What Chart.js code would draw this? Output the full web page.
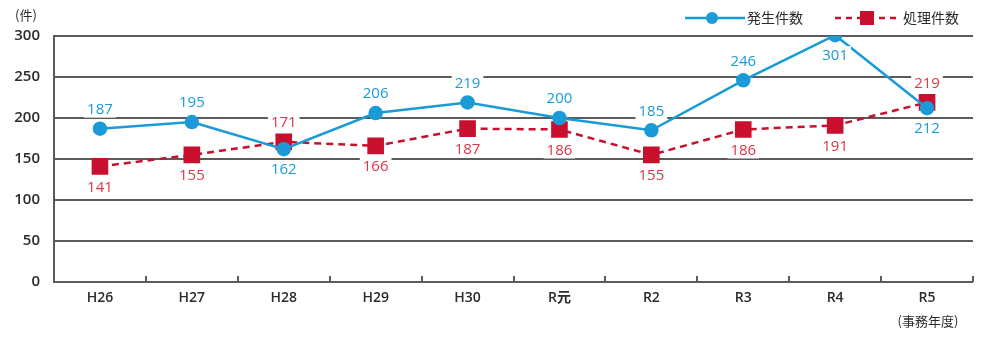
<!DOCTYPE html>
<html>
<head>
<meta charset="utf-8">
<script src="https://cdn.jsdelivr.net/npm/chart.js@4/dist/chart.umd.min.js"></script>
<style>
  html, body { margin: 0; padding: 0; background: #fff; }
  #wrap { position: relative; width: 997px; height: 339px; }
</style>
</head>
<body>
<div id="wrap"><canvas id="c" width="997" height="339"></canvas></div>
<script>
const categories = ['H26', 'H27', 'H28', 'H29', 'H30', 'R元', 'R2', 'R3', 'R4', 'R5'];
const occurred = [187, 195, 162, 206, 219, 200, 185, 246, 301, 212];
const handled = [141, 155, 171, 166, 187, 186, 155, 186, 191, 219];
// label placement per point: 'up' or 'down'
const occurredLabelPos = ['up', 'up', 'down', 'up', 'up', 'up', 'up', 'up', 'down', 'down'];
const handledLabelPos = ['down', 'down', 'up', 'down', 'down', 'down', 'down', 'down', 'down', 'up'];
const yTicks = [0, 50, 100, 150, 200, 250, 300];

const BLUE = '#1a9ad6';
const RED = '#c8102e';
const RED_TEXT = '#dc3545';
const GRID = '#5b5b5b';
const TEXT = '#2b2b2b';
const NUM_FONT = '"Open Sans", "Noto Sans CJK JP", sans-serif';
const JP_FONT = '"Noto Sans CJK JP", sans-serif';

const overlay = {
  id: 'overlay',
  afterDraw(chart) {
    const ctx = chart.ctx;
    const x = chart.scales.x;
    const area = chart.chartArea;
    ctx.save();
    // inward tick marks on the base line at category boundaries
    ctx.strokeStyle = GRID;
    ctx.lineWidth = 2;
    const n = categories.length;
    for (let i = 1; i <= n; i++) {
      const px = Math.round(x.left + i * (x.right - x.left) / n);
      ctx.beginPath();
      ctx.moveTo(px, area.bottom);
      ctx.lineTo(px, area.bottom - 6);
      ctx.stroke();
    }

    // value labels with white backing
    ctx.font = '15px ' + NUM_FONT;
    ctx.textAlign = 'center';
    ctx.textBaseline = 'middle';
    const drawLabels = (dsIndex, values, pos, color) => {
      const meta = chart.getDatasetMeta(dsIndex);
      meta.data.forEach((pt, i) => {
        const t = String(values[i]);
        const ly = pos[i] === 'up' ? pt.y - 20 : pt.y + 20;
        const w = ctx.measureText(t).width;
        ctx.fillStyle = '#ffffff';
        ctx.fillRect(pt.x - w / 2 - 3, ly - 9, w + 6, 18);
        ctx.fillStyle = color;
        ctx.fillText(t, pt.x, ly + 1);
      });
    };
    drawLabels(0, occurred, occurredLabelPos, BLUE);
    drawLabels(1, handled, handledLabelPos, RED_TEXT);

    // unit labels
    ctx.fillStyle = TEXT;
    ctx.font = '13px ' + JP_FONT;
    ctx.textAlign = 'left';
    ctx.fillText('(件)', 15, 15);
    ctx.textAlign = 'center';
    ctx.fillText('(事務年度)', 928, 321);

    // legend
    ctx.textAlign = 'left';
    ctx.font = '14px ' + JP_FONT;
    ctx.strokeStyle = BLUE;
    ctx.lineWidth = 2.5;
    ctx.beginPath();
    ctx.moveTo(685, 18);
    ctx.lineTo(745, 18);
    ctx.stroke();
    ctx.fillStyle = BLUE;
    ctx.beginPath();
    ctx.arc(712, 18, 6, 0, Math.PI * 2);
    ctx.fill();
    ctx.fillStyle = TEXT;
    ctx.fillText('発生件数', 747, 18);

    ctx.strokeStyle = RED;
    ctx.setLineDash([6, 5]);
    ctx.beginPath();
    ctx.moveTo(835, 18);
    ctx.lineTo(900, 18);
    ctx.stroke();
    ctx.setLineDash([]);
    ctx.fillStyle = RED;
    ctx.fillRect(860, 11, 14, 14);
    ctx.fillStyle = TEXT;
    ctx.fillText('処理件数', 903, 18);
    ctx.restore();
  }
};

new Chart(document.getElementById('c'), {
  type: 'line',
  data: {
    labels: categories,
    datasets: [
      {
        label: '発生件数',
        data: occurred,
        borderColor: BLUE,
        backgroundColor: BLUE,
        borderWidth: 2.5,
        pointStyle: 'circle',
        pointRadius: 6,
        pointHoverRadius: 6,
        tension: 0,
        order: 1
      },
      {
        label: '処理件数',
        data: handled,
        borderColor: RED,
        backgroundColor: RED,
        borderWidth: 2.5,
        borderDash: [7, 5],
        pointStyle: 'rect',
        pointRadius: 10,
        pointHoverRadius: 10,
        tension: 0,
        order: 2
      }
    ]
  },
  options: {
    responsive: false,
    animation: false,
    devicePixelRatio: 1,
    layout: { padding: { top: 36, right: 24, bottom: 0, left: 0 } },
    plugins: { legend: { display: false }, tooltip: { enabled: false } },
    scales: {
      x: {
        offset: true,
        grid: { display: false, drawTicks: false },
        border: { display: false },
        ticks: {
          color: TEXT,
          font: { family: NUM_FONT, size: 14, weight: '600' },
          padding: 8,
          maxRotation: 0
        },
        afterFit(s) { s.height = 57; }
      },
      y: {
        min: 0,
        max: 300,
        afterBuildTicks(s) { s.ticks = yTicks.map(v => ({ value: v })); },
        grid: { color: GRID, lineWidth: 2, drawTicks: false },
        border: { display: true, color: GRID, width: 2 },
        ticks: {
          color: TEXT,
          font: { family: NUM_FONT, size: 15, weight: '600' },
          padding: 14
        },
        afterFit(s) { s.width = 54; }
      }
    }
  },
  plugins: [overlay]
});
</script>
</body>
</html>
